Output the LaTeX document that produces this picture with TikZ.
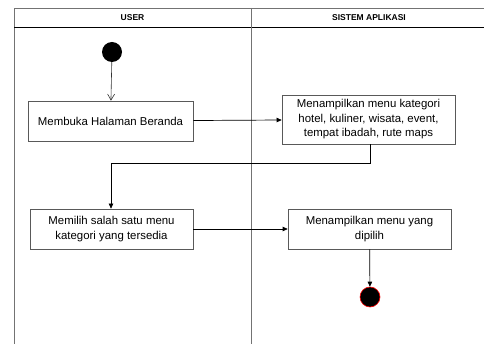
\documentclass[tikz,border=0pt]{standalone}
\usepackage{fontspec}
\setmainfont{Liberation Sans}
\usetikzlibrary{arrows.meta}
\begin{document}
\begin{tikzpicture}[x=1pt,y=-1pt,
  lane/.style={draw=black!55, line width=0.9pt},
  act/.style={draw=black!65, line width=0.7pt, fill=white, align=center,
    font=\fontsize{11.4}{14.5}\selectfont, inner sep=0pt},
  flow/.style={draw=black, line width=0.7pt, -{Triangle[length=5pt,width=4.5pt]}},
  hdr/.style={font=\fontsize{8.5}{10}\selectfont\bfseries}]
  \useasboundingbox (0,0) rectangle (484,344);
  % swimlane frame
  \draw[lane] (14,350) -- (14,8) -- (490,8);
  \draw[draw=black, line width=0.9pt] (14,27) -- (490,27);
  \draw[lane] (251,8) -- (251,350);
  \node[hdr] (hu) at (132.5,18) {USER};
  \node[hdr] (hs) at (369,18) {SISTEM APLIKASI};
  % activity nodes
  \node[circle, fill=black, minimum size=20pt, inner sep=0pt] (start) at (112,52) {};
  \node[act, minimum width=165pt, minimum height=40pt] (b1) at (110.5,121) {Membuka Halaman Beranda};
  \node[act, minimum width=173pt, minimum height=49pt] (b2) at (368.5,119.5) {Menampilkan menu kategori\\hotel, kuliner, wisata, event,\\tempat ibadah, rute maps};
  \node[act, minimum width=163pt, minimum height=40pt] (b3) at (111.5,229) {Memilih salah satu menu\\kategori yang tersedia};
  \node[act, minimum width=163pt, minimum height=40pt] (b4) at (369.5,229) {Menampilkan menu yang\\dipilih};
  \node[circle, fill=black, draw=red, line width=0.6pt, minimum size=20pt, inner sep=0pt] (end) at (370,297) {};
  \coordinate (c1) at (370,163);
  \coordinate (c2) at (111,163);
  % control flow
  \draw[draw=black!80, line width=0.6pt, -{Straight Barb[length=6pt,width=7pt]}] (start) -- (b1);
  \draw[flow] (b1) -- (b2);
  \draw[flow] (b2.south -| c1) -- (c1) -- (c2) -- (b3.north -| c2);
  \draw[flow] (b3) -- (b4);
  \draw[flow] (b4) -- (end);
\end{tikzpicture}
\end{document}
